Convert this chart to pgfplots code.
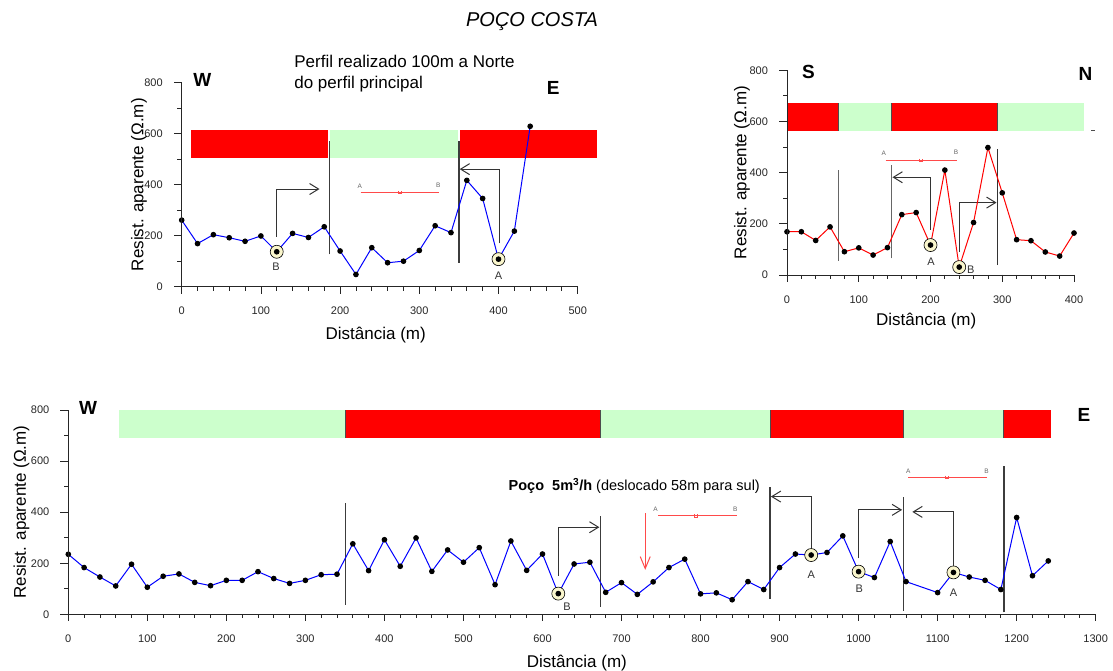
\documentclass[border=0pt]{standalone}
\usepackage{fontspec}
\setmainfont{Liberation Sans}
\usepackage{pgfplots}
\pgfplotsset{compat=1.18}
\usetikzlibrary{arrows.meta}

\definecolor{barred}{HTML}{FF0000}
\definecolor{bargreen}{HTML}{CCFFCC}
\definecolor{ringfill}{HTML}{FAF6CC}
\definecolor{elec}{HTML}{FF4A4A}
\definecolor{vline}{HTML}{3C3C3C}

% pgfplots keeps the tick labels; the axis lines and ticks are drawn after the axes
\pgfplotsset{
  res/.style={
    scale only axis, clip=false,
    axis x line=bottom, axis y line=left,
    axis line style={draw=none},
    tick align=outside, major tick length=0pt, minor tick length=0pt,
    ymin=0, ymax=800, ytick={0,200,...,800},
    tick label style={font=\fontsize{11}{12}\selectfont, black!85},
    xticklabel shift=17pt, yticklabel shift=15.5pt,
    /pgf/number format/assume math mode=true,
    /pgf/number format/1000 sep={},
    xlabel={Distância (m)}, ylabel={Resist. aparente (Ω.m)},
    label style={font=\fontsize{17}{20}\selectfont},
  },
}
\tikzset{
  axl/.style={black!85, line width=0.9pt},
  tk/.style={black!85, line width=0.8pt},
  sep/.style={vline, line width=1.3pt},
  bsep/.style={black!70, line width=1pt},
  guide/.style={black!80, line width=1pt, -{Straight Barb[length=9pt,width=11pt]}},
  hl/.style={only marks, mark=*, mark size=6.5pt, mark options={fill=ringfill, draw=black, line width=0.6pt}},
  dat/.style={line width=1pt, mark=*, mark size=2.3pt, mark options={fill=black, draw=black}},
  elline/.style={elec, line width=1pt},
  lab/.style={font=\fontsize{11}{12}\selectfont, text=black!80},
  el/.style={font=\fontsize{6.5}{7}\selectfont, text=black!60},
  cp/.style={font=\bfseries\fontsize{19}{20}\selectfont},
}

% frame: x0, y0 (pt), x minor step, number of x minor steps, y step per 100
\newcommand\frameaxes[5]{%
  \begin{scope}[x=1pt, y=1pt]
  \draw[axl] (#1,#2) -- ({#1+#3*#4},#2);
  \draw[axl] (#1,#2) -- (#1,{#2+8*#5});
  \foreach \k in {0,...,#4} \draw[tk] ({#1+\k*#3},#2) -- ++(0,-4);
  \foreach \k in {0,5,...,#4} \draw[tk] ({#1+\k*#3},#2) -- ++(0,-7);
  \foreach \k in {0,...,8} \draw[tk] (#1,{#2+\k*#5}) -- ++(-4.3,0);
  \foreach \k in {0,2,...,8} \draw[tk] (#1,{#2+\k*#5}) -- ++(-8,0);
  \end{scope}
}

\begin{document}
\begin{tikzpicture}
\path[use as bounding box] (0pt,0pt) rectangle (1113pt,671pt);

\node[font=\itshape\fontsize{20}{22}\selectfont] at (532pt,649pt) {POÇO COSTA};

% ---------- top left: 100 m north ----------
\begin{axis}[res, at={(181.7pt,384.3pt)}, anchor=south west,
  width=396pt, height=204pt,
  xmin=0, xmax=500, xtick={0,100,...,500},
  ylabel style={at={(axis description cs:-0.108,0.5)}, anchor=center},
  xlabel style={at={(axis description cs:0.49,-0.239)}, anchor=center}]
  \addplot[fill=barred, draw=none] coordinates {(12,506) (185,506) (185,614) (12,614)};
  \addplot[fill=bargreen, draw=none] coordinates {(187,506) (349,506) (349,614) (187,614)};
  \addplot[fill=barred, draw=none] coordinates {(351,506) (524,506) (524,614) (351,614)};
  \addplot[sep] coordinates {(187,127) (187,571)};
  \addplot[sep] coordinates {(350,94) (350,571)};
  \addplot[guide] coordinates {(120,196) (120,383) (174,383)};
  \addplot[guide] coordinates {(401,170) (401,461) (351,461)};
  \addplot[elline] coordinates {(226,369) (325,369)};
  \addplot[elec, line width=0.8pt] coordinates {(274,376) (274,364) (278,364) (278,376)};
  \addplot[hl] coordinates {(120,137) (400,108)};
  \addplot[dat, blue] coordinates {
    (0,261) (20,169) (40,204) (60,192) (80,178) (100,199) (120,137)
    (140,209) (160,193) (180,235) (200,140) (220,48) (240,153) (260,94)
    (280,100) (300,142) (320,239) (340,212) (360,417) (380,346) (400,108)
    (420,218) (440,629)};
  \node[lab] at (axis cs:119,78) {B};
  \node[lab] at (axis cs:400,42) {A};
  \node[el] at (axis cs:225,395) {A};
  \node[el] at (axis cs:324,397) {B};
  \node[cp] at (axis cs:26,810) {W};
  \node[cp] at (axis cs:469,779) {E};
  \node[anchor=north west, inner sep=0pt, align=left,
        font=\fontsize{17}{21}\selectfont] at (axis cs:142,907)
        {Perfil realizado 100m a Norte\\do perfil principal};
\end{axis}

% ---------- top right: S-N ----------
\begin{axis}[res, at={(787pt,396pt)}, anchor=south west,
  width=287pt, height=204.7pt,
  xmin=0, xmax=400, xtick={0,100,...,400},
  ylabel style={at={(axis description cs:-0.157,0.5)}, anchor=center},
  xlabel style={at={(axis description cs:0.485,-0.227)}, anchor=center}]
  \addplot[fill=barred, draw=none] coordinates {(1,563) (72,563) (72,671) (1,671)};
  \addplot[fill=bargreen, draw=none] coordinates {(72,563) (146,563) (146,671) (72,671)};
  \addplot[fill=barred, draw=none] coordinates {(146,563) (293,563) (293,671) (146,671)};
  \addplot[fill=bargreen, draw=none] coordinates {(293,563) (414,563) (414,671) (293,671)};
  \addplot[bsep] coordinates {(72,563) (72,671)};
  \addplot[bsep] coordinates {(146,563) (146,671)};
  \addplot[bsep] coordinates {(293,563) (293,671)};
  \addplot[black!70, line width=0.8pt] coordinates {(424,567) (429,567)};
  \addplot[sep, black!60] coordinates {(72,56) (72,410)};
  \addplot[sep, black!60] coordinates {(146,65) (146,430)};
  \addplot[sep, black!80] coordinates {(293,39) (293,491)};
  \addplot[guide] coordinates {(200,176) (200,382) (147,382)};
  \addplot[guide] coordinates {(240,91) (240,283) (292,283)};
  \addplot[elline] coordinates {(137.5,449) (236.5,449)};
  \addplot[elec, line width=0.8pt] coordinates {(184,455) (184,444) (189,444) (189,455)};
  \addplot[hl] coordinates {(200,117) (240,31)};
  \addplot[dat, red] coordinates {
    (0,169) (20,169) (40,135) (60,188) (80,91) (100,106) (120,78)
    (140,107) (160,236) (180,244) (200,117) (220,410) (240,31) (260,205)
    (280,498) (300,321) (320,138) (340,134) (360,90) (380,74) (400,164)};
  \node[lab] at (axis cs:200.7,52) {A};
  \node[lab] at (axis cs:256,22) {B};
  \node[el] at (axis cs:135,476) {A};
  \node[el] at (axis cs:235.5,478) {B};
  \node[cp] at (axis cs:30,794) {S};
  \node[cp] at (axis cs:416,785) {N};
\end{axis}

% ---------- bottom: main profile W-E ----------
\begin{axis}[res, at={(68.3pt,56.7pt)}, anchor=south west,
  width=1027.4pt, height=204.3pt,
  xmin=0, xmax=1300, xtick={0,100,...,1300},
  ylabel style={at={(axis description cs:-0.0455,0.5)}, anchor=center},
  xlabel style={at={(axis description cs:0.495,-0.24)}, anchor=center}]
  \addplot[fill=bargreen, draw=none] coordinates {(64,692) (351,692) (351,800) (64,800)};
  \addplot[fill=barred, draw=none] coordinates {(351,692) (673,692) (673,800) (351,800)};
  \addplot[fill=bargreen, draw=none] coordinates {(673,692) (888,692) (888,800) (673,800)};
  \addplot[fill=barred, draw=none] coordinates {(888,692) (1057,692) (1057,800) (888,800)};
  \addplot[fill=bargreen, draw=none] coordinates {(1057,692) (1183,692) (1183,800) (1057,800)};
  \addplot[fill=barred, draw=none] coordinates {(1183,692) (1244,692) (1244,800) (1183,800)};
  \addplot[bsep] coordinates {(351,692) (351,800)};
  \addplot[bsep] coordinates {(673,692) (673,800)};
  \addplot[bsep] coordinates {(888,692) (888,800)};
  \addplot[bsep] coordinates {(1057,692) (1057,800)};
  \addplot[bsep] coordinates {(1183,692) (1183,800)};
  \addplot[sep] coordinates {(351,37) (351,437)};
  \addplot[sep] coordinates {(673,30) (673,386)};
  \addplot[sep] coordinates {(888,59) (888,500)};
  \addplot[sep] coordinates {(1057,14) (1057,461)};
  \addplot[sep] coordinates {(1184,8) (1184,582)};
  \addplot[guide] coordinates {(620,151) (620,341) (672,341)};
  \addplot[guide] coordinates {(940,239) (940,461) (889,461)};
  \addplot[guide] coordinates {(1000,219) (1000,409) (1055,409)};
  \addplot[guide] coordinates {(1120,187) (1120,401) (1068,401)};
  \addplot[elec, line width=1pt, -{Straight Barb[length=12pt,width=10pt]}]
    coordinates {(730,396) (730,174)};
  \addplot[elline] coordinates {(746.5,385) (846,385)};
  \addplot[elec, line width=0.8pt] coordinates {(792,391) (792,380) (796,380) (796,391)};
  \addplot[elline] coordinates {(1063,537) (1162,537)};
  \addplot[elec, line width=0.8pt] coordinates {(1110,543) (1110,532) (1114,532) (1114,543)};
  \addplot[hl] coordinates {(620,81) (940,232) (1000,167) (1120,164)};
  \addplot[dat, blue] coordinates {
    (0,235) (20,183) (40,146) (60,111) (80,196) (100,106) (120,149)
    (140,158) (160,125) (180,112) (200,133) (220,133) (240,167) (260,140)
    (280,121) (300,133) (320,155) (340,157) (360,276) (380,171) (400,292)
    (420,188) (440,299) (460,168) (480,252) (500,204) (520,261) (540,116)
    (560,287) (580,172) (600,236) (620,81) (640,197) (660,204) (680,86)
    (700,124) (720,78) (740,127) (760,183) (780,216) (800,80) (820,84)
    (840,57) (860,128) (880,97) (900,183) (920,236) (940,232) (960,242)
    (980,307) (1000,167) (1020,144) (1040,285) (1060,128) (1100,85)
    (1120,164) (1140,146) (1160,133) (1180,97) (1200,379) (1220,151)
    (1240,209)};
  \node[lab] at (axis cs:631,30) {B};
  \node[lab] at (axis cs:940,154) {A};
  \node[lab] at (axis cs:1001,102) {B};
  \node[lab] at (axis cs:1120,85) {A};
  \node[el] at (axis cs:743,412) {A};
  \node[el] at (axis cs:844,412) {B};
  \node[el] at (axis cs:1063,562) {A};
  \node[el] at (axis cs:1162,562) {B};
  \node[cp] at (axis cs:25,808) {W};
  \node[cp] at (axis cs:1285,780) {E};
  \node[anchor=base west, inner sep=0pt, font=\fontsize{14.5}{16}\selectfont]
    at (axis cs:557,483) {\textbf{Poço\ \ 5m\textsuperscript{3}/h} (deslocado 58m para sul)};
\end{axis}

% axis lines and ticks of the three panels
\frameaxes{181.7}{384.3}{15.84}{25}{25.5}
\frameaxes{787}{396}{14.35}{20}{25.59}
\frameaxes{68.3}{56.7}{15.806}{65}{25.54}
\end{tikzpicture}
\end{document}
